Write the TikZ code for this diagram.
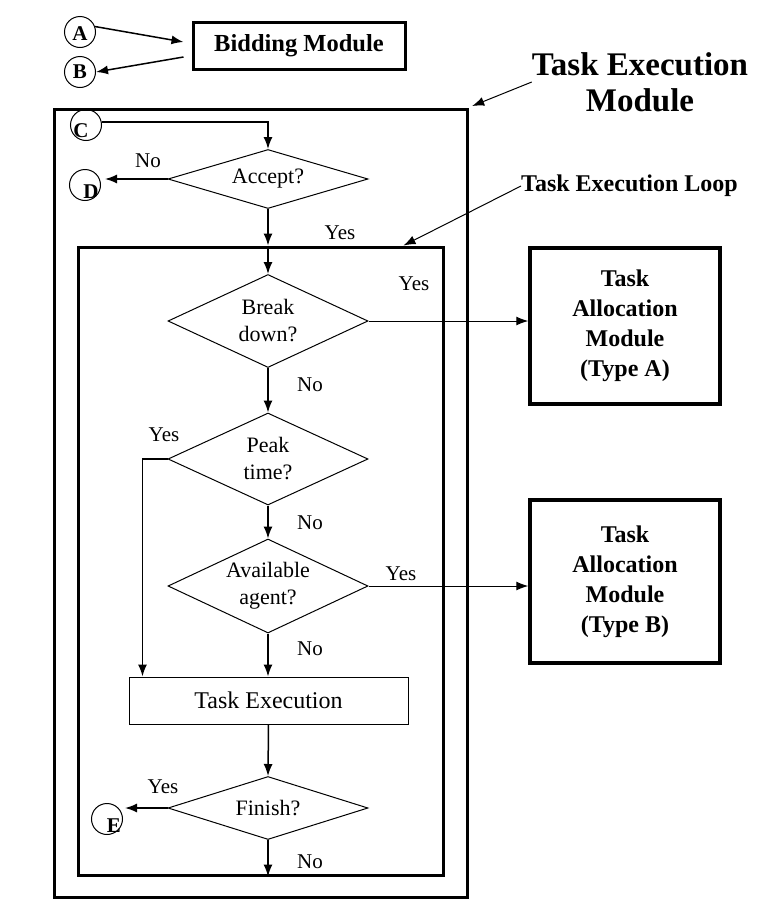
\documentclass[tikz,border=0pt]{standalone}
\usepackage{fontspec}
\setmainfont{Liberation Serif}
\usetikzlibrary{shapes.geometric}
\usetikzlibrary{arrows.meta}

\begin{document}
\begin{tikzpicture}[x=1pt,y=1pt,yscale=-1,xscale=1,
  arr/.style={-{Latex[length=12pt,width=9pt]}, line width=1.5pt},
  conn/.style={circle, draw, line width=1pt, minimum size=31pt, inner sep=0pt},
  lett/.style={font=\fontsize{21}{21}\selectfont\bfseries, inner sep=0pt},
  dec/.style={diamond, draw, line width=1pt, aspect=2, inner sep=0pt, minimum width=200pt, align=center, font=\fontsize{22}{27}\selectfont},
  tabox/.style={draw, line width=3.5pt, minimum width=190pt, align=center, font=\fontsize{24}{30}\selectfont\bfseries},
  lbl/.style={font=\fontsize{21}{25}\selectfont, inner sep=0pt}]
\useasboundingbox (0,0) rectangle (778,921);

%Shape: Rectangle (module)
\node [draw, line width=3pt, minimum width=413pt, minimum height=788pt] (tem) at (260.5,503) {};
%Shape: Rectangle (loop)
\node [draw, line width=3pt, minimum width=365pt, minimum height=628pt] (loop) at (260.5,561) {};

%Shape: Circle
\node [conn, label={[lett, yshift=-2pt]center:A}] (A) at (80,32) {};
%Shape: Circle
\node [conn, label={[lett]center:B}] (B) at (80,72) {};
%Shape: Circle
\node [conn, label={[lett, xshift=-5pt, yshift=-6pt]center:C}] (C) at (86,125) {};
%Shape: Circle
\node [conn, label={[lett, xshift=6pt, yshift=-7pt]center:D}] (D) at (85,185) {};
%Shape: Circle
\node [conn, label={[lett, xshift=7pt, yshift=-7pt]center:E}] (E) at (107,819) {};

%Shape: Rectangle
\node [draw, line width=3pt, minimum width=212pt, minimum height=47pt, font=\fontsize{24.5}{28}\selectfont\bfseries] (bid) at (299,45.5) {Bidding Module};

%Shape: Diamond
\node [dec, minimum height=59pt] (acc) at (268,179) {Accept?};
%Shape: Diamond
\node [dec, minimum height=93pt] (brk) at (268,321) {Break\\down?};
%Shape: Diamond
\node [dec, minimum height=92pt] (pk) at (268,459) {Peak\\time?};
%Shape: Diamond
\node [dec, minimum height=94pt] (avl) at (268,586) {Available\\agent?};
%Shape: Rectangle
\node [draw, line width=1pt, minimum width=279pt, minimum height=47pt, font=\fontsize{24}{28}\selectfont] (te) at (268.5,700.5) {Task Execution};
%Shape: Diamond
\node [dec, minimum height=63pt] (fin) at (268,808) {Finish?};

%Shape: Rectangle
\node [tabox, minimum height=156pt] (tya) at (625,326) {Task\\Allocation\\Module\\(Type A)};
%Shape: Rectangle
\node [tabox, minimum height=163pt] (tyb) at (625,581.5) {Task\\Allocation\\Module\\(Type B)};

% Text Node
\node [font=\fontsize{33}{36}\selectfont\bfseries, align=center, inner sep=0pt] (ttl) at (640,82) {Task Execution\\Module};
% Text Node
\node [font=\fontsize{24}{28}\selectfont\bfseries, anchor=west, inner sep=0pt] (lpl) at (521,186) {Task Execution Loop};

% Text Node
\node [lbl] (nacc) at (148,161) {No};
\node [lbl] (yacc) at (340,233) {Yes};
\node [lbl] (ybrk) at (414,284) {Yes};
\node [lbl] (nbrk) at (310,385) {No};
\node [lbl] (ypk) at (164,435) {Yes};
\node [lbl] (npk) at (310,523) {No};
\node [lbl] (yavl) at (401,574) {Yes};
\node [lbl] (navl) at (310,649) {No};
\node [lbl] (yfin) at (163,787) {Yes};
\node [lbl] (nfin) at (310,862) {No};

%Straight Lines
\draw [arr] (A.20) -- ([xshift=-8pt,yshift=-3.5pt]bid.west);
\draw [arr] ([xshift=-8pt,yshift=11.5pt]bid.west) -- (B.east);
\draw [arr] (C.10) -| (acc.north);
\draw [arr, shorten >=4pt] (acc.west) -- (acc.west -| D.east);
\coordinate (lin) at (acc.south |- loop.north);
\draw [arr] (acc.south) -- (lin);
\draw [arr] (lin) -- (brk.north);
\draw [arr, line width=1pt] (brk.east) -- (brk.east -| tya.west);
\draw [arr] (brk.south) -- (pk.north);
\draw [arr] (pk.west) -| ([xshift=14pt]te.north west);
\draw [arr] (pk.south) -- (avl.north);
\draw [arr, line width=1pt] (avl.east) -- (avl.east -| tyb.west);
\draw [arr] (avl.south) -- (avl.south |- te.north);
\draw [arr] (te.south) -- (fin.north);
\draw [arr, shorten >=2pt] (fin.west) -- (fin.west -| E.east);
\draw [arr] (fin.south) -- (fin.south |- loop.south);
\draw [arr, line width=1pt, shorten >=4pt] (ttl.west) -- (tem.north east);
\draw [arr, line width=1pt] (lpl.west) -- ([xshift=-41pt]loop.north east);

\end{tikzpicture}
\end{document}
